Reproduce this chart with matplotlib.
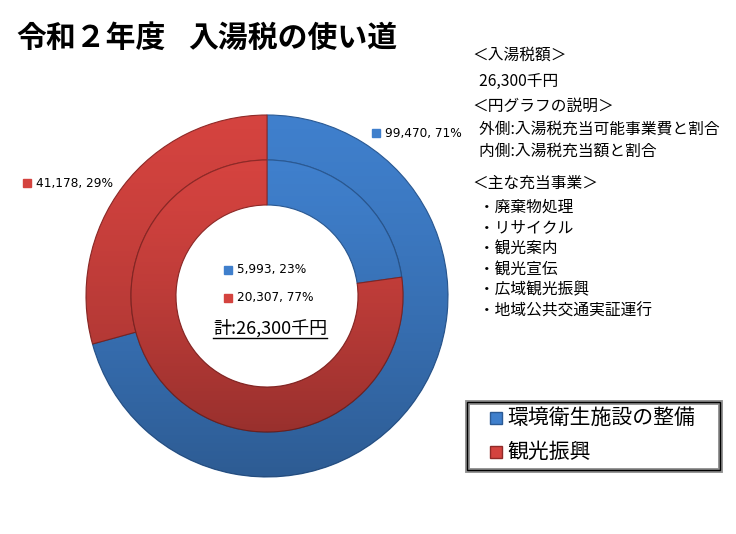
import numpy as np
import matplotlib
matplotlib.use("Agg")
import matplotlib.pyplot as plt
from matplotlib.patches import Rectangle
from matplotlib.lines import Line2D

plt.rcParams['font.family'] = ['Noto Sans CJK JP', 'DejaVu Sans']

# data
categories = ["環境衛生施設の整備", "観光振興"]
outer_vals = [99470, 41178]   # 入湯税充当可能事業費
inner_vals = [5993, 20307]    # 入湯税充当額
colors = ["#3f7fcc", "#d4433f"]
edge_colors = ["#2b5a94", "#8f2a28"]

title_left = "令和２年度"
title_right = "入湯税の使い道"
side_lines = ["＜入湯税額＞", "  26,300千円", "＜円グラフの説明＞",
              "  外側:入湯税充当可能事業費と割合", "  内側:入湯税充当額と割合",
              "＜主な充当事業＞", "  ・廃棄物処理", "  ・リサイクル", "  ・観光案内",
              "  ・観光宣伝", "  ・広域観光振興", "  ・地域公共交通実証運行"]
total_label = "計:26,300千円"

W, H = 736, 534
fig = plt.figure(figsize=(W / 100, H / 100), dpi=100)
ax = fig.add_axes([0, 0, 1, 1])

def py(y):
    # pixel row (from top) -> data y
    return H - y

cx, cy = 267, py(296)

def shaded_pie(vals, radius, width):
    wedges, _ = ax.pie(vals, radius=radius, center=(cx, cy), startangle=90,
                       counterclock=False, colors=colors,
                       wedgeprops=dict(width=width, linewidth=0.8))
    for w, ec in zip(wedges, edge_colors):
        w.set_edgecolor(ec)
        # darker towards the bottom, like the office bevel look
        grad = np.linspace(0, 1, 256).reshape(-1, 1)
        img = np.zeros((256, 1, 4))
        img[..., 3] = 0.28 * grad[:, 0:1] ** 1.3
        im = ax.imshow(img, extent=(cx - radius, cx + radius, cy - radius, cy + radius),
                       origin='upper', aspect='auto', zorder=w.get_zorder() + 0.1)
        im.set_clip_path(w)
    return wedges

outer_w = shaded_pie(outer_vals, 181, 45)
inner_w = shaded_pie(inner_vals, 136, 45)

ax.set_xlim(0, W)
ax.set_ylim(0, H)
ax.set_aspect('equal')
ax.axis('off')

# title
ax.text(16, py(38), title_left, fontsize=21.5, fontweight='bold', va='center', ha='left')
ax.text(188, py(38), title_right, fontsize=21.5, fontweight='bold', va='center', ha='left')

# side notes
side_y = [55, 82, 106, 129, 151, 183, 207, 228, 249, 270, 290, 311]
for s, y in zip(side_lines, side_y):
    ax.text(472, py(y), s, fontsize=11.3, va='center', ha='left')

# data labels
def data_label(x, y, val, total, color):
    ax.plot([x], [py(y)], marker='s', ms=5.5, color=color, mec=color)
    ax.text(x + 9, py(y), f"{val:,}, {round(val / total * 100)}%",
            fontsize=8.7, va='center', ha='left', family=['DejaVu Sans'])

ot, it = sum(outer_vals), sum(inner_vals)
data_label(376, 133, outer_vals[0], ot, colors[0])
data_label(27, 183, outer_vals[1], ot, colors[1])
data_label(228, 270, inner_vals[0], it, colors[0])
data_label(228, 298, inner_vals[1], it, colors[1])

tt = ax.text(270, py(328), total_label, fontsize=13, va='center', ha='center')

# legend box with double frame
ax.add_patch(Rectangle((467, py(470)), 253, 68, fill=False, ec='#909090', lw=3.5, zorder=5))
ax.add_patch(Rectangle((467, py(470)), 253, 68, fill=False, ec='black', lw=1.0, zorder=6))
for i, (cat, c) in enumerate(zip(categories, colors)):
    y = [418, 452][i]
    ax.plot([496], [py(y)], marker='s', ms=9, color=c, mec=edge_colors[i])
    ax.text(507, py(y), cat, fontsize=15, va='center', ha='left')

# underline for the total
fig.canvas.draw()
bb = tt.get_window_extent().transformed(ax.transData.inverted())
ax.add_line(Line2D([bb.x0, bb.x1], [py(338), py(338)], color='black', lw=1))

fig.savefig("out.png", dpi=100)
